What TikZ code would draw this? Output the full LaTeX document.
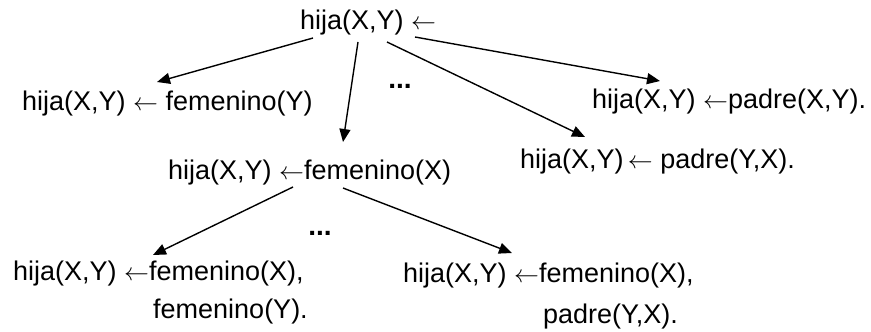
\documentclass[tikz,border=0pt]{standalone}
\usepackage{fontspec}
\setmainfont{Liberation Sans}
\usetikzlibrary{arrows.meta}

\tikzset{
  goal/.style={inner sep=0pt, anchor=base west, font=\fontsize{27pt}{32pt}\selectfont},
  dots/.style={inner sep=0pt, font=\fontsize{28pt}{32pt}\selectfont\bfseries},
  edge/.style={line width=1.4pt, -{Triangle[length=13pt,width=11pt]}},
}

\begin{document}
\begin{tikzpicture}[x=1pt, y=-1pt]
  \useasboundingbox (0,0) rectangle (871,332);

  % root of the derivation tree
  \node[goal] (top) at (300,29) {hija(X,Y) $\leftarrow$};

  % first level
  \node[goal] (l2) at (22,110) {hija(X,Y) $\leftarrow$ femenino(Y)};
  \node[goal] (mid) at (168,179) {hija(X,Y) $\leftarrow$femenino(X)};
  \node[goal] (r1) at (592,108) {hija(X,Y) $\leftarrow$padre(X,Y).};
  \node[goal] (r2) at (520,168) {hija(X,Y)$\,\leftarrow$ padre(Y,X).};
  \node[dots] (d1) at (400,86) {...};

  % second level
  \node[goal] (bl) at (13,280) {hija(X,Y) $\leftarrow$femenino(X),};
  \node[goal] (bl2) at (153,318) {femenino(Y).};
  \node[goal] (br) at (403,282) {hija(X,Y) $\leftarrow$femenino(X),};
  \node[goal] (br2) at (543,323) {padre(Y,X).};
  \node[dots] (d2) at (320,233) {...};

  % refinement edges
  \draw[edge] ([xshift=13pt,yshift=-9pt]top.base west) -- ([xshift=135pt,yshift=28pt]l2.base west);
  \draw[edge] ([xshift=58pt,yshift=-13pt]top.base west) -- ([xshift=175pt,yshift=37pt]mid.base west);
  \draw[edge] ([xshift=87pt,yshift=-13pt]top.base west) -- ([xshift=65pt,yshift=31pt]r2.base west);
  \draw[edge] ([xshift=115pt,yshift=-8pt]top.base west) -- ([xshift=68pt,yshift=27pt]r1.base west);
  \draw[edge] ([xshift=125pt,yshift=-8pt]mid.base west) -- ([xshift=140pt,yshift=25pt]bl.base west);
  \draw[edge] ([xshift=175pt,yshift=-9pt]mid.base west) -- ([xshift=109pt,yshift=29pt]br.base west);
\end{tikzpicture}
\end{document}
